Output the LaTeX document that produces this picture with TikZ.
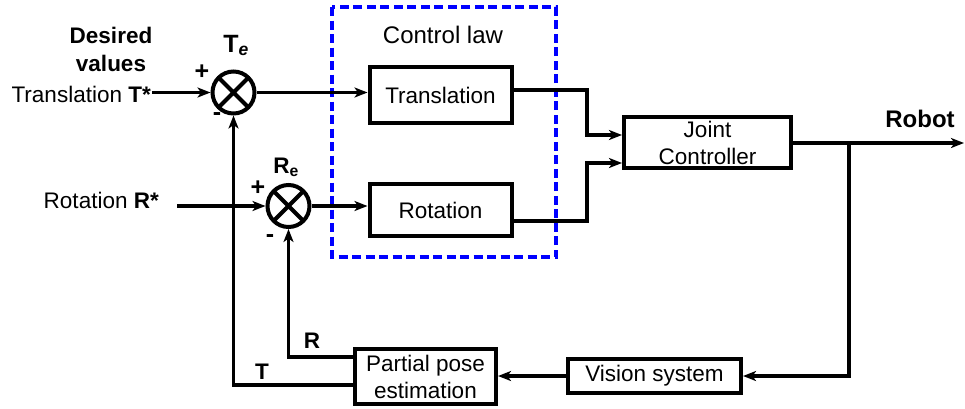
\documentclass[tikz,border=0pt]{standalone}
\usepackage{fontspec}
\setmainfont{Liberation Sans}
\usetikzlibrary{arrows.meta,calc}
\begin{document}
\begin{tikzpicture}[x=1pt,y=-1pt,
  txt/.style={inner sep=1pt,font=\fontsize{22.5}{27}\selectfont,align=center},
  blk/.style={draw,line width=4pt,inner sep=0pt,align=center,font=\fontsize{22.5}{27}\selectfont},
  sumc/.style={draw,circle,line width=4pt,minimum size=42pt,inner sep=0pt,
    path picture={\draw[line width=4pt] (path picture bounding box.north west) -- (path picture bounding box.south east)
      (path picture bounding box.north east) -- (path picture bounding box.south west);}},
  ar/.style={line width=3.5pt,-{Stealth[length=13pt,width=10pt,inset=3.5pt]}},
  sgn/.style={inner sep=0pt,font=\fontsize{25}{28}\selectfont\bfseries},
  lawbox/.style={draw=blue,line width=3.5pt,dash pattern=on 9pt off 4.5pt}]
\useasboundingbox (0,0) rectangle (965,408);

% blocks
\node[sumc] (Te) at (233.5,92.5) {};
\node[sumc] (Re) at (288.5,206) {};
\node[blk,minimum width=142pt,minimum height=56pt] (Trans) at (440.5,95) {Translation};
\node[blk,minimum width=142pt,minimum height=52pt] (Rot) at (440.5,210) {Rotation};
\node[blk,minimum width=167pt,minimum height=51pt] (Joint) at (707.5,142.5) {Joint\\Controller};
\node[blk,minimum width=141pt,minimum height=55pt] (Part) at (425.5,376.5) {Partial pose\\estimation};
\node[blk,minimum width=173pt,minimum height=34pt] (Vis) at (654.5,376) {Vision system};

% control law dashed box
\draw[lawbox] (332,7) rectangle (556,257);
\node[txt,anchor=base,font=\fontsize{24}{28}\selectfont] (cl) at (443,43) {Control law};

% labels
\node[txt,font=\fontsize{22.5}{28}\selectfont\bfseries] (des) at (111,49) {Desired\\values};
\node[txt,anchor=base east] (tin) at (152,102) {Translation \textbf{T*}};
\node[txt,anchor=base east] (rinl) at (160,208) {Rotation \textbf{R*}};
\node[txt,anchor=base,font=\fontsize{25}{28}\selectfont\bfseries] (tel) at (236,52) {T\textsubscript{\textit{e}}};
\node[txt,anchor=base,font=\fontsize{22.5}{27}\selectfont\bfseries] (rel) at (286,173) {R\textsubscript{e}};
\node[sgn] (p1) at (202,72) {+};
\node[sgn] (m1) at (217,117) {-};
\node[sgn] (p2) at (258,188) {+};
\node[sgn] (m2) at (270,239) {-};
\node[txt,anchor=base,font=\fontsize{24}{28}\selectfont\bfseries] (rob) at (920,127) {Robot};
\node[txt,anchor=base,font=\fontsize{22.5}{27}\selectfont\bfseries] (rlab) at (312,348) {R};
\node[txt,anchor=base,font=\fontsize{22.5}{27}\selectfont\bfseries] (tlab) at (262,379) {T};

% coordinates
\coordinate (rin) at (177,206);
\coordinate (j1) at (587,90);
\coordinate (j2) at (587,135);
\coordinate (k1) at (587,221);
\coordinate (k2) at (587,163);
\coordinate (out) at (964,143);
\coordinate (br) at (849,143);
\coordinate (rr) at (287,357);
\coordinate (tt) at (233,385);

% connectors
\draw[ar] (tin.east |- Te.west) -- (Te.west);
\draw[ar] (rin) -- (Re.west);
\draw[ar] (Te.east) -- (Te.east -| Trans.west);
\draw[ar] (Re.east) -- (Re.east -| Rot.west);
\draw[ar] (Trans.east |- j1) -- (j1) -- (j2) -- (j2 -| Joint.west);
\draw[ar] (Rot.east |- k1) -- (k1) -- (k2) -- (k2 -| Joint.west);
\draw[ar] (Joint.east |- out) -- (out);
\draw[ar] (br) |- (Vis.east);
\draw[ar] (Vis.west) -- (Vis.west -| Part.east);
\draw[ar] (Part.west |- rr) -| (Re.south);
\draw[ar] (Part.west |- tt) -| (Te.south);
\end{tikzpicture}
\end{document}
